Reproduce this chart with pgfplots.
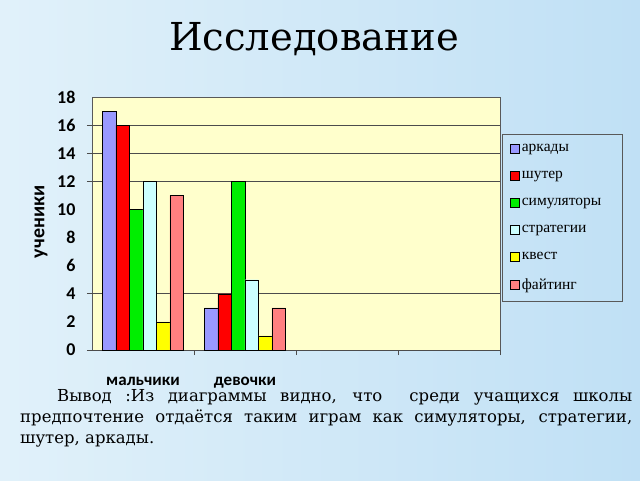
\documentclass[border=0pt]{standalone}
\usepackage{fontspec}
\setmainfont{DejaVu Serif}
\newfontfamily\carlito{Carlito}
\newfontfamily\legfont{Liberation Serif}
\usepackage{pgfplots}
\pgfplotsset{compat=1.18}

\definecolor{arcade}{RGB}{153,153,255}
\definecolor{shooter}{RGB}{255,0,0}
\definecolor{simul}{RGB}{0,238,0}
\definecolor{strat}{RGB}{204,255,255}
\definecolor{quest}{RGB}{255,255,0}
\definecolor{fight}{RGB}{255,128,128}
\definecolor{plotbg}{RGB}{255,255,204}
\definecolor{slideL}{RGB}{225,241,250}
\definecolor{slideR}{RGB}{192,224,245}

\newcommand{\lentry}[1]{\makebox[90pt][l]{#1}}

\begin{document}
\begin{tikzpicture}[x=1pt,y=1pt]
\shade[left color=slideL, right color=slideR] (0,0) rectangle (640,480);
\path[use as bounding box] (0,0) rectangle (640,480);
\node[font=\fontsize{38.5}{38.5}\selectfont] at (314,441) {Исследование};

\begin{axis}[
  at={(92pt,130pt)}, anchor=south west,
  scale only axis, width=408pt, height=253pt,
  ybar=0pt, bar width=13.5pt,
  xmin=-0.5, xmax=3.5, ymin=0, ymax=18,
  ytick={0,2,...,18},
  xtick={0,1}, xticklabels={мальчики,девочки},
  tick pos=left,
  major tick length=0pt,
  extra x ticks={0.5,1.5,2.5,3.5}, extra x tick labels={},
  extra x tick style={major tick length=5pt, tick align=outside,
    tick style={gray!60!black, line width=0.8pt}},
  extra y ticks={0,4,12,14,16}, extra y tick labels={},
  extra y tick style={grid=major, major tick length=5pt, tick align=outside,
    tick style={gray!60!black, line width=0.8pt},
    major grid style={gray!60!black, line width=0.8pt}},
  axis line style={gray!70!black, line width=0.8pt},
  axis background/.style={fill=plotbg},
  /pgf/number format/assume math mode=true,
  yticklabel style={font=\carlito\bfseries\fontsize{18}{18}\selectfont, xshift=-13pt},
  xticklabel style={font=\carlito\bfseries\fontsize{17}{17}\selectfont, yshift=-24pt},
  ylabel={ученики},
  ylabel style={at={(rel axis cs:-0.125,0.506)}, anchor=center,
    font=\carlito\bfseries\fontsize{20}{20}\selectfont},
  legend image code/.code={\draw[#1,draw=black,line width=0.6pt] (0pt,-4.5pt) rectangle (9pt,4.5pt);},
  legend style={at={(rel axis cs:1.005,0.854)}, anchor=north west,
    draw=gray!70!black, fill=none, inner xsep=8pt, inner ysep=8pt,
    row sep=14.2pt, font=\legfont\fontsize{15.5}{15.5}\selectfont},
  legend cell align=left,
]
\addplot[fill=arcade, draw=black] coordinates {(0,17) (1,3)};
\addplot[fill=shooter, draw=black] coordinates {(0,16) (1,4)};
\addplot[fill=simul, draw=black] coordinates {(0,10) (1,12)};
\addplot[fill=strat, draw=black] coordinates {(0,12) (1,5)};
\addplot[fill=quest, draw=black] coordinates {(0,2) (1,1)};
\addplot[fill=fight, draw=black] coordinates {(0,11) (1,3)};
\legend{\lentry{аркады},\lentry{шутер},\lentry{симуляторы},\lentry{стратегии},\lentry{квест},\lentry{файтинг}}
\end{axis}

\node[anchor=north west, text width=612pt, align=justify, inner sep=0pt,
  font=\fontsize{16.5}{21}\selectfont] at (20,91)
  {\hspace*{37pt}Вывод :Из диаграммы видно, что\ \ среди учащихся школы\linebreak
   предпочтение отдаётся таким играм как симуляторы, стратегии,\linebreak
   шутер, аркады.};
\end{tikzpicture}
\end{document}
